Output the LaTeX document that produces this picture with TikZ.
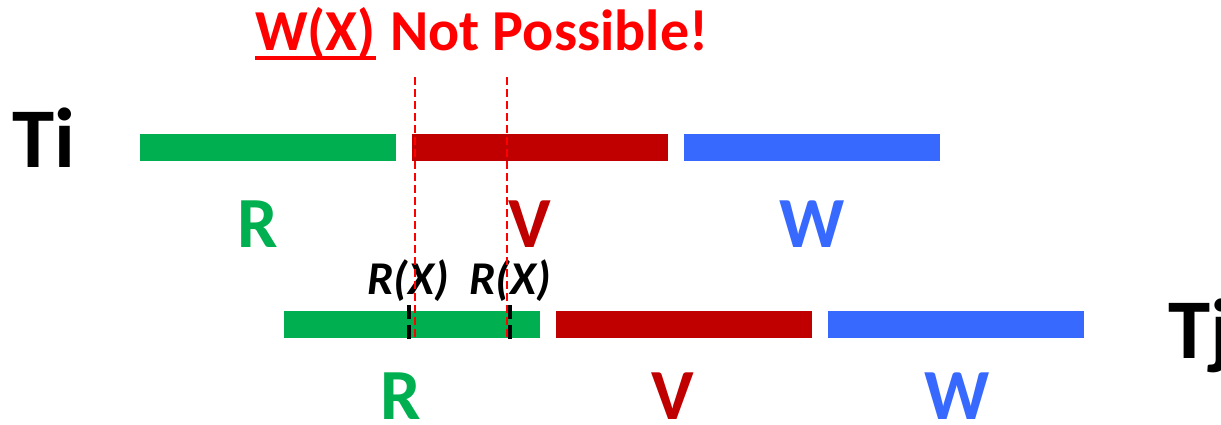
\documentclass[tikz,border=0pt]{standalone}
\usepackage{fontspec}
\setmainfont{Carlito}
\usetikzlibrary{positioning, calc}

\definecolor{rgreen}{HTML}{00B050}
\definecolor{vred}{HTML}{C00000}
\definecolor{wblue}{HTML}{3869FF}
\definecolor{alarm}{HTML}{FF0000}

\begin{document}
\begin{tikzpicture}[
  x=1pt, y=-1pt,
  every node/.style={inner sep=0pt, font=\bfseries},
  bar/.style={minimum width=256pt, minimum height=27pt},
  phase/.style={anchor=base, font=\fontsize{72}{72}\selectfont\bfseries},
  tname/.style={anchor=base west, font=\fontsize{85}{85}\selectfont\bfseries},
  readop/.style={anchor=base, font=\fontsize{47}{47}\selectfont\bfseries\itshape},
  cut/.style={alarm, line width=2.6pt, dash pattern=on 8pt off 4pt},
  tick/.style={black, line width=4pt, dash pattern=on 14pt off 6pt}
]
\useasboundingbox (0,0) rectangle (1221,424);
% title
\node[anchor=base west, text=alarm, font=\fontsize{58}{58}\selectfont\bfseries] (tW) at (255,50) {W(X)};
\node[anchor=base west, text=alarm, font=\fontsize{58}{58}\selectfont\bfseries] (tN) at ($(tW.base east)+(14,0)$) {Not Possible!};
\draw[alarm, line width=4pt] ($(tW.base west)+(0,8)$) -- ($(tW.base east)+(0,8)$);
% transaction Ti
\node[tname] (ti) at (12,167) {Ti};
\node[bar, fill=rgreen] (tiR) at (268,147.5) {};
\node[bar, fill=vred]   (tiV) at (540,147.5) {};
\node[bar, fill=wblue]  (tiW) at (812,147.5) {};
\node[phase, text=rgreen] (tiRl) at (258,247) {R};
\node[phase, text=vred]   (tiVl) at (530,247) {V};
\node[phase, text=wblue]  (tiWl) at (812,247) {W};
% transaction Tj
\node[tname] (tj) at (1168,358) {Tj};
\node[bar, fill=rgreen] (tjR) at (412,324) {};
\node[bar, fill=vred]   (tjV) at (684,324) {};
\node[bar, fill=wblue]  (tjW) at (956,324) {};
\node[phase, text=rgreen] (tjRl) at (401,419) {R};
\node[phase, text=vred]   (tjVl) at (673,419) {V};
\node[phase, text=wblue]  (tjWl) at (957,419) {W};
% reads of X in Tj
\node[readop] (rx1) at (408,294) {R(X)};
\node[readop] (rx2) at (510,294) {R(X)};
\coordinate (r1top) at (409,305);
\coordinate (r1bot) at (409,342);
\coordinate (r2top) at (510,305);
\coordinate (r2bot) at (510,342);
\draw[tick] (r1top) -- (r1bot);
\draw[tick] (r2top) -- (r2bot);
% validation window of Ti
\coordinate (c1top) at (415,77);
\coordinate (c1bot) at (415,340);
\coordinate (c2top) at (507,77);
\coordinate (c2bot) at (507,340);
\draw[cut] (c1top) -- (c1bot);
\draw[cut] (c2top) -- (c2bot);
\end{tikzpicture}
\end{document}
